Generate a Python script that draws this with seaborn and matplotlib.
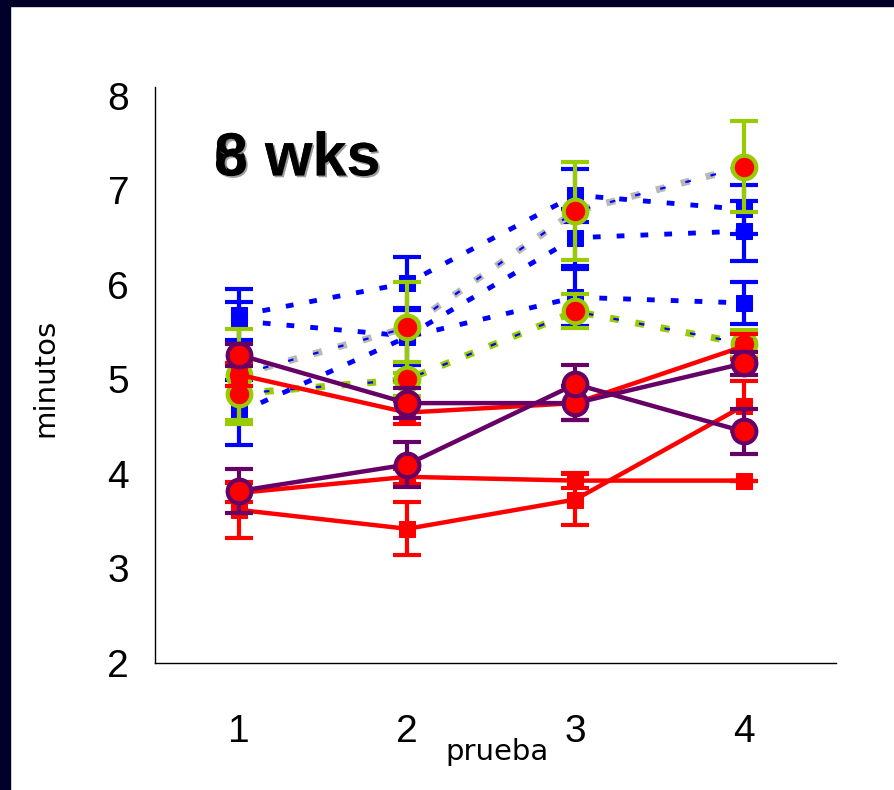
import matplotlib
matplotlib.use("Agg")
import matplotlib.pyplot as plt
import matplotlib.patheffects as pe
from matplotlib.patches import Rectangle
import numpy as np
import pandas as pd
import seaborn as sns

# ---------------- data ----------------
trials = [1, 2, 3, 4]
tick_labels = ["1", "2", "3", "4"]

blue_a = [5.68, 6.02, 6.95, 6.80]
blue_a_err = [0.28, 0.28, 0.28, 0.26]
blue_b = [5.62, 5.46, 6.50, 6.57]
blue_b_err = [0.20, 0.30, 0.30, 0.32]
blue_c = [4.65, 5.45, 5.87, 5.81]
blue_c_err = [0.34, 0.30, 0.30, 0.22]

green_a = [5.05, 5.55, 6.78, 7.25]
green_a_err = [0.48, 0.48, 0.52, 0.48]
green_b = [4.85, 5.00, 5.72, 5.38]
green_b_err = [0.32, 0.18, 0.18, 0.14]

red_a = [3.62, 3.42, 3.73, 4.72]
red_a_err = [0.30, 0.28, 0.27, 0.26]
red_b = [3.80, 3.97, 3.93, 3.93]
red_b_err = [0.10, 0.08, 0.08, 0.0]
red_c = [5.05, 4.65, 4.75, 5.35]
red_c_err = [0.12, 0.12, 0.18, 0.13]

purple_a = [5.26, 4.75, 4.75, 5.17]
purple_a_err = [0.12, 0.16, 0.18, 0.12]
purple_b = [3.82, 4.10, 4.95, 4.45]
purple_b_err = [0.23, 0.24, 0.20, 0.24]

labels_wks = ["6 wks", "8 wks"]

# ---------------- style ----------------
sns.set_style("white")
plt.rcParams["font.family"] = ["Liberation Sans", "DejaVu Sans"]

BLUE = "#0000FF"
RED = "#FF0000"
PURPLE = "#660066"
LIME = "#99CC00"
GRAY = "#B8B8B8"
NAVY = "#000028"

fig = plt.figure(figsize=(8.95, 7.9), dpi=100)
fig.patch.set_facecolor("white")
fig.patches.append(Rectangle((0, 0), 10 / 895, 1, transform=fig.transFigure,
                             color=NAVY, zorder=0))
fig.patches.append(Rectangle((0, 1 - 6 / 790), 1, 6 / 790, transform=fig.transFigure,
                             color=NAVY, zorder=0))

ax = fig.add_axes([155 / 895, 1 - 663 / 790, (836 - 155) / 895, (663 - 86.5) / 790])
ax.set_facecolor("white")


def series(y):
    return pd.DataFrame({"trial": trials, "min": y})


def errs(y, e, color, z):
    ax.errorbar(trials, y, yerr=e, fmt="none", ecolor=color, elinewidth=3,
                capsize=10, capthick=3, zorder=z)


dash_blue = (0, (1.6, 3.3))

# blue dashed series
for y, e in [(blue_a, blue_a_err), (blue_b, blue_b_err), (blue_c, blue_c_err)]:
    errs(y, e, BLUE, 2)
    sns.lineplot(data=series(y), x="trial", y="min", ax=ax, color=BLUE,
                 linewidth=3.5, linestyle=dash_blue, marker="s", markersize=11,
                 markeredgecolor=BLUE, markerfacecolor=BLUE, zorder=3)

# red square series
for y, e in [(red_a, red_a_err), (red_b, red_b_err)]:
    errs(y, e, RED, 4)
    sns.lineplot(data=series(y), x="trial", y="min", ax=ax, color=RED,
                 linewidth=3.2, marker="s", markersize=11,
                 markeredgecolor=RED, markerfacecolor=RED, zorder=5)

# green series (outline dashes with blue core)
dash_g = (0, (1.3, 2.4))
for y, e, outline in [(green_a, green_a_err, GRAY), (green_b, green_b_err, LIME)]:
    errs(y, e, LIME, 6)
    sns.lineplot(data=series(y), x="trial", y="min", ax=ax, color=outline,
                 linewidth=5, linestyle=dash_g, zorder=6)
    ax.plot(trials, y, color=BLUE, linewidth=1.6,
            linestyle=(0.5, (2.5, 9.2)), zorder=6.5)
    sns.lineplot(data=series(y), x="trial", y="min", ax=ax, color=LIME,
                 linewidth=0, marker="o", markersize=17,
                 markeredgecolor=LIME, markeredgewidth=3,
                 markerfacecolor=RED, zorder=7)

# red line with squares
errs(red_c, red_c_err, RED, 7.5)
sns.lineplot(data=series(red_c), x="trial", y="min", ax=ax, color=RED,
             linewidth=3.2, marker="s", markersize=11,
             markeredgecolor=RED, markerfacecolor=RED, zorder=7.6)

# purple series
for y, e in [(purple_a, purple_a_err), (purple_b, purple_b_err)]:
    errs(y, e, PURPLE, 8)
    sns.lineplot(data=series(y), x="trial", y="min", ax=ax, color=PURPLE,
                 linewidth=3.2, marker="o", markersize=17,
                 markeredgecolor=PURPLE, markeredgewidth=3,
                 markerfacecolor=RED, zorder=9)

# ---------------- axes ----------------
ax.set_xlim(0.5, 4.55)
ax.set_ylim(2, 8.1)
ax.set_xticks(trials)
ax.set_xticklabels(tick_labels)
ax.set_xticks([0.5], minor=True)
ax.set_yticks([2, 3, 4, 5, 6, 7, 8])
ax.set_yticklabels(["2", "3", "4", "5", "6", "7", "8"])
for s in ["top", "right"]:
    ax.spines[s].set_visible(False)
for s in ["left", "bottom"]:
    ax.spines[s].set_color("black")
    ax.spines[s].set_linewidth(1.0)
ax.tick_params(axis="both", which="both", direction="out", length=8.6,
               width=0.8, color="black", labelsize=28, labelcolor="black")
ax.tick_params(axis="x", which="major", pad=28)
ax.tick_params(axis="y", pad=10)
ax.set_xlabel("")
ax.set_ylabel("")
ax.grid(False)

narrow = ["Liberation Sans Narrow", "DejaVu Sans"]
fig.text(497 / 895, 1 - 752 / 790, "prueba", ha="center", va="center",
         fontsize=21, family=narrow, color="black")
fig.text(45 / 895, 1 - 378 / 790, "minutos", ha="center", va="center",
         fontsize=21, rotation=90, family=narrow, color="black")

for lab in labels_wks:
    fig.text(214 / 895, 1 - 160 / 790, lab, ha="left", va="center",
             fontsize=44, fontweight="bold", color="black",
             path_effects=[pe.withSimplePatchShadow(offset=(1.2, -1.2),
                                                    shadow_rgbFace="#999999",
                                                    alpha=0.8)])

fig.savefig("out.png", dpi=100, facecolor="white")
